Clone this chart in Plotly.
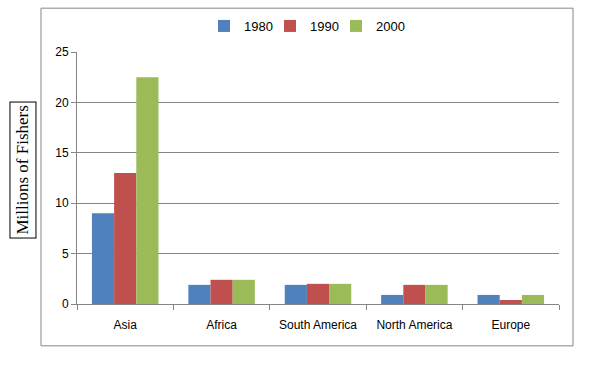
import plotly.graph_objects as go

regions = ["Asia", "Africa", "South America", "North America", "Europe"]
years = ["1980", "1990", "2000"]
v1980 = [9.0, 1.9, 1.9, 0.9, 0.9]
v1990 = [13.0, 2.4, 2.0, 1.9, 0.4]
v2000 = [22.5, 2.4, 2.0, 1.9, 0.9]
colors = ["#4F81BD", "#C0504D", "#9BBB59"]

L, R, T, B = 77, 559, 51, 304
W = R - L
H = B - T

def px(x):
    return (x - L) / W

def py(y):
    return (B - y) / H

legend_names = ["legend", "legend2", "legend3"]
text_starts = [244, 310, 376]

fig = go.Figure()
for name, vals, c, lg in zip(years, [v1980, v1990, v2000], colors, legend_names):
    fig.add_trace(go.Bar(name=name, x=regions, y=vals, legend=lg,
                         marker=dict(color=c, line=dict(width=0))))

legend_common = dict(orientation="h", yanchor="middle", xanchor="left",
                     font=dict(size=13), bgcolor="rgba(0,0,0,0)", itemwidth=30)
layout_legends = {}
for lg, ts in zip(legend_names, text_starts):
    layout_legends[lg] = dict(legend_common, x=px(ts - 40), y=py(26))

fig.update_layout(
    width=590, height=365,
    margin=dict(l=L, r=590 - R, t=T, b=365 - B, pad=0),
    paper_bgcolor="white", plot_bgcolor="white",
    barmode="group", bargap=0.31, bargroupgap=0,
    font=dict(family="Liberation Sans, Arial, sans-serif", size=12, color="#000000"),
    showlegend=True,
    xaxis=dict(showline=True, linecolor="#868686", linewidth=1, ticks="outside",
               tickson="boundaries", ticklen=5, tickcolor="#868686", showgrid=False,
               tickfont=dict(size=12), ticklabelstandoff=10, fixedrange=True),
    yaxis=dict(range=[0, 25], dtick=5, showline=True, linecolor="#868686", linewidth=1,
               ticks="outside", ticklen=5, tickcolor="#868686", showgrid=True,
               gridcolor="#868686", gridwidth=1, zeroline=False, tickfont=dict(size=12),
               fixedrange=True),
    **layout_legends,
)

fig.add_shape(type="rect", xref="paper", yref="paper",
              x0=px(41), x1=px(573), y0=py(346), y1=py(7),
              line=dict(color="#868686", width=1), fillcolor="rgba(0,0,0,0)", layer="below")

fig.add_annotation(xref="paper", yref="paper", x=px(23), y=py(170),
                   text="Millions of Fishers", textangle=-90, showarrow=False,
                   font=dict(family="Liberation Serif, DejaVu Serif, serif", size=17, color="#000000"),
                   bordercolor="#000000", borderwidth=1, borderpad=3, bgcolor="white",
                   xanchor="center", yanchor="middle")

fig.write_html("out.html", config={"displayModeBar": False},
               post_script="document.body.style.margin='0';")
